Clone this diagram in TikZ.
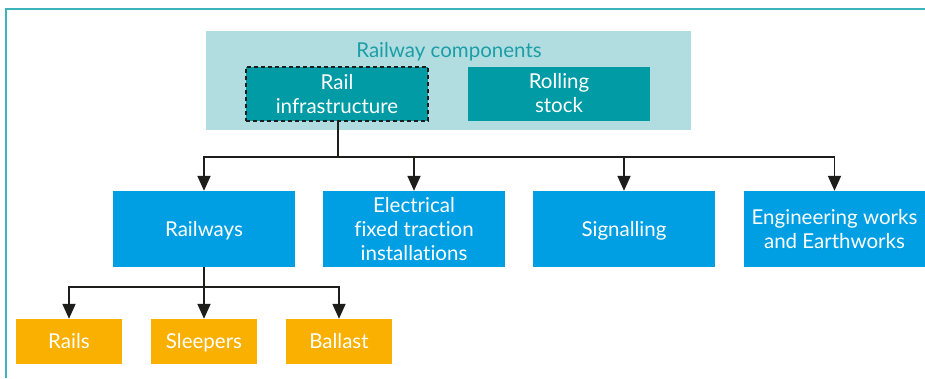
\documentclass[tikz,border=0pt]{standalone}
\usepackage{fontspec}
\setmainfont{Lato}[Ligatures=NoCommon]
\usetikzlibrary{arrows.meta}
\definecolor{lightteal}{HTML}{B2DDE0}
\definecolor{teal2}{HTML}{009BA5}
\definecolor{titleteal}{HTML}{1A9EA8}
\definecolor{blue2}{HTML}{009FE3}
\definecolor{orange2}{HTML}{F9B000}
\definecolor{frame2}{HTML}{3DB3BC}
\definecolor{darkline}{HTML}{1D1D1B}
\tikzset{
  txt/.style={font=\fontsize{20.5}{24}\selectfont},
  oneline/.style={text height=19pt, text depth=4.5pt},
  box/.style={inner sep=0pt, align=center, text=white, txt},
  tealbox/.style={box, fill=teal2, minimum width=182pt, minimum height=54pt},
  bluebox/.style={box, fill=blue2, minimum width=182pt, minimum height=76pt},
  orangebox/.style={box, oneline, fill=orange2, minimum width=106pt, minimum height=45pt},
  conn/.style={draw=darkline, line width=1.8pt, -{Triangle[width=13pt,length=15pt]}},
  plain/.style={draw=darkline, line width=1.8pt}
}
\begin{document}
\begin{tikzpicture}[x=1pt,y=-1pt]
\useasboundingbox (0,0) rectangle (925,378);
\fill[white] (0,0) rectangle (925,378);
\draw[frame2, line width=2pt] (6,378) -- (6,9) -- (925,9);
\node[fill=lightteal, minimum width=485pt, minimum height=99pt, inner sep=0pt] (rc) at (448.5,80.5) {};
\node[text=titleteal, txt, oneline, inner sep=0pt] (rct) at (449,50) {Railway components};
\node[tealbox, draw=darkline, dashed, dash pattern=on 4pt off 3pt, line width=1.5pt] (ri) at (337,94) {Rail\\infrastructure};
\node[tealbox] (rs) at (559,93.5) {Rolling\\stock};
\node[bluebox, oneline] (rw) at (204,229) {Railways};
\node[bluebox] (el) at (414,229) {Electrical\\fixed traction\\installations};
\node[bluebox, oneline] (sg) at (624,229) {Signalling};
\node[bluebox, minimum width=181pt] (ew) at (834.5,229) {Engineering works\\and Earthworks};
\node[orangebox] (ra) at (69,341.5) {Rails};
\node[orangebox] (sl) at (204,341.5) {Sleepers};
\node[orangebox] (ba) at (339,341.5) {Ballast};
\coordinate (j1) at (338,157);
\coordinate (j2) at (204,287);
\draw[plain] (ri.south -| j1) -- (j1);
\draw[conn] (j1) -| (rw.north);
\draw[conn] (j1) -| (el.north);
\draw[conn] (j1) -| (sg.north);
\draw[conn] (j1) -| (ew.north);
\draw[plain] (rw.south) -- (j2);
\draw[conn] (j2) -| (ra.north);
\draw[conn] (j2) -- (sl.north);
\draw[conn] (j2) -| (ba.north);
\end{tikzpicture}
\end{document}
